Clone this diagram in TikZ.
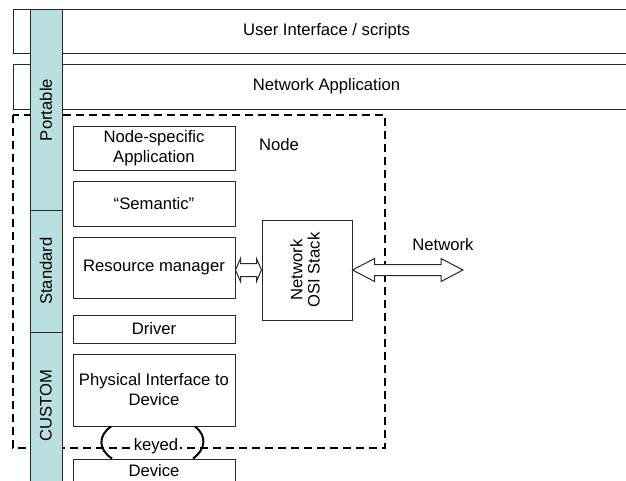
\documentclass[tikz,border=0pt]{standalone}
\usepackage{fontspec}
\setmainfont{Liberation Sans}
\usetikzlibrary{calc}
\definecolor{tealbar}{RGB}{186,223,225}
\definecolor{edge}{RGB}{40,40,40}
\tikzset{
  every node/.style={font=\fontsize{12.5pt}{15pt}\selectfont},
  box/.style={draw=edge, line width=0.75pt, fill=white, rectangle, inner sep=0pt, align=center},
  band/.style={draw=edge, line width=0.75pt, fill=tealbar},
  nodeframe/.style={draw=black, line width=1.5pt, dash pattern=on 6pt off 3.75pt},
  bracket/.style={draw=black, line width=1.5pt},
  arrowbody/.style={draw=edge, line width=0.75pt, fill=white}
}
\begin{document}
\begin{tikzpicture}[x=0.75pt, y=-0.75pt]
\clip (0,0) rectangle (626,480);
\useasboundingbox (0,0) rectangle (626,480);
\fill[white] (0,0) rectangle (626,480);
% top layers
\node[box, minimum width=470.25pt, minimum height=33pt] (ui) at (326.5,31) {User Interface / scripts};
\node[box, minimum width=470.25pt, minimum height=33.75pt] (netapp) at (326.5,86.5) {Network Application};
% node frame
\draw[nodeframe] (13,115) rectangle (385,448);
% stack boxes
\node[box, minimum width=121.5pt, minimum height=33pt] (nsa) at (154,148) {Node-specific\\Application};
\node[box, minimum width=121.5pt, minimum height=33.75pt] (sem) at (154,203.5) {“Semantic”};
\node[box, minimum width=121.5pt, minimum height=45.75pt] (rm) at (154,267.5) {Resource manager};
\node[box, minimum width=121.5pt, minimum height=21pt] (drv) at (154,329) {Driver};
\node[box, minimum width=121.5pt, minimum height=54pt] (phy) at (154,390) {Physical Interface to\\Device};
\node[box, minimum width=121.5pt, minimum height=18pt] (dev) at (154,471) {Device};
\node[box, minimum width=67.5pt, minimum height=75pt] (osi) at (307,270) {\rotatebox{90}{\begin{tabular}{@{}c@{}}Network\\[-2pt]OSI Stack\end{tabular}}};
\node (nodelbl) at (279,145) {Node};
\node (netlbl) at (443,245) {Network};
\coordinate (netend) at (463,270);
% small double arrow
\draw[arrowbody] let \p1=(rm.east |- osi.west), \p2=(osi.west) in
  (\x1,\y1) -- ++(5,-11.5) -- ++(0,5) -- ($(\x2,\y2)+(-5,-6.5)$) -- ++(0,-5) -- (\x2,\y2)
  -- ++(-5,11.5) -- ++(0,-5) -- ($(\x1,\y1)+(5,6.5)$) -- ++(0,5) -- cycle;
% big double arrow
\draw[arrowbody] let \p1=(osi.east), \p2=(netend) in
  (\x1,\y1) -- ++(22,-11.5) -- ++(0,6) -- ($(\x2,\y2)+(-22,-5.5)$) -- ++(0,-6) -- (\x2,\y2)
  -- ++(-22,11.5) -- ++(0,-6) -- ($(\x1,\y1)+(22,5.5)$) -- ++(0,6) -- cycle;
% keyed
\node[fill=white, inner sep=1pt] (keyed) at (156,446) {keyed};
\draw[bracket] ($(phy.south)+(-43,0)$) .. controls ($(phy.south)+(-56,9)$) and ($(dev.north)+(-56,-9)$) .. ($(dev.north)+(-42,0)$);
\draw[bracket] ($(phy.south)+(41,0)$) .. controls ($(phy.south)+(53,9)$) and ($(dev.north)+(52,-9)$) .. ($(dev.north)+(39,0)$);
% teal band
\draw[band] (30,9) rectangle (62,490);
\draw[edge, line width=0.75pt] (30,210) -- (62,210);
\draw[edge, line width=0.75pt] (30,332) -- (62,332);
\node[rotate=90] (portable) at (46,110) {Portable};
\node[rotate=90] (standard) at (46,271) {Standard};
\node[rotate=90] (custom) at (46,406) {CUSTOM};
\end{tikzpicture}
\end{document}
